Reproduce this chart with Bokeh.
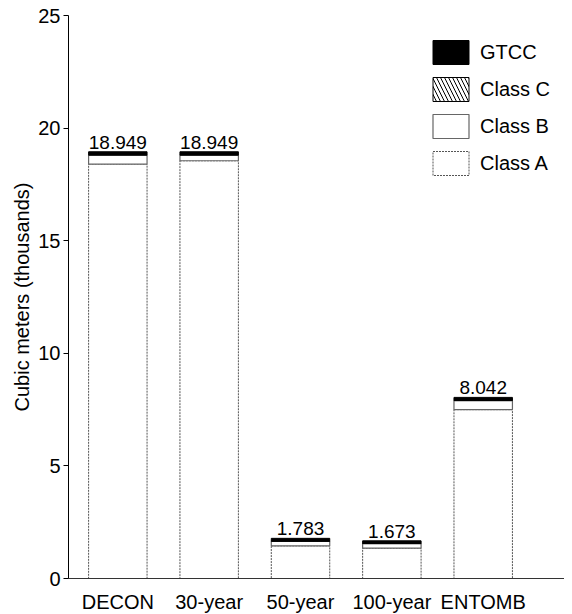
from bokeh.plotting import figure
from bokeh.models import Range1d, FixedTicker, Legend, LegendItem, ColumnDataSource
from bokeh.embed import file_html
from bokeh.resources import INLINE
from bokeh.core.properties import value

categories = ["DECON", "30-year", "50-year", "100-year", "ENTOMB"]
class_a = [18.40, 18.55, 1.45, 1.35, 7.50]
class_b = [0.40, 0.25, 0.20, 0.20, 0.40]
class_c = [0.02, 0.02, 0.02, 0.02, 0.02]
gtcc = [0.129, 0.129, 0.113, 0.103, 0.122]
totals = [18.949, 18.949, 1.783, 1.673, 8.042]
y_ticks = [0, 5, 10, 15, 20, 25]

FONT = "Liberation Sans"

xs = list(range(len(categories)))
src = ColumnDataSource(dict(x=xs, a=class_a, b=class_b, c=class_c, g=gtcc,
                            total=totals, label=[f"{t:.3f}" for t in totals]))

p = figure(frame_width=496, frame_height=563, output_backend="svg", toolbar_location=None,
           x_range=Range1d(-0.54, 4.89), y_range=Range1d(0, 25),
           min_border_left=68, min_border_right=0, min_border_top=15, min_border_bottom=30)
p.outline_line_color = None
p.xgrid.visible = False
p.ygrid.visible = False

W = 0.64
styles = [
    dict(fill_color="white", line_color="#555555", line_dash="2 1", line_width=1),
    dict(fill_color="white", line_color="#666666", line_width=1.2),
    dict(fill_color="white", line_color="black", hatch_pattern="\\", hatch_color="black",
         hatch_scale=8, hatch_weight=1, line_width=1),
    dict(fill_color="black", line_color="black", line_width=1),
]
rends = p.vbar_stack(["a", "b", "c", "g"], x="x", width=W, source=src,
                     fill_color=[s["fill_color"] for s in styles],
                     line_color=[s["line_color"] for s in styles])
for r, s in zip(rends, styles):
    for k, v in s.items():
        setattr(r.glyph, k, v)

p.text(x="x", y="total", text="label", source=src, text_align="center",
       text_baseline="bottom", y_offset=-3, text_font=value(FONT),
       text_font_size="19px", text_color="black")

names = ["Class A", "Class B", "Class C", "GTCC"]
items = [LegendItem(label=n, renderers=[r]) for n, r in zip(names, rends)][::-1]
legend = Legend(items=items, location=(360, 400), padding=0, spacing=7,
                glyph_width=45, glyph_height=30, label_standoff=7,
                label_text_font=FONT, label_text_font_size="20px",
                label_text_color="black", label_height=30,
                border_line_color=None, background_fill_alpha=0)
p.add_layout(legend)

p.xaxis.ticker = FixedTicker(ticks=xs)
p.xaxis.major_label_overrides = {i: c for i, c in enumerate(categories)}
p.xaxis.major_tick_line_color = None
p.xaxis.minor_tick_line_color = None
p.xaxis.major_label_standoff = 6
p.xaxis.axis_line_color = "#333333"
p.xaxis.major_label_text_font = FONT
p.xaxis.major_label_text_font_size = "20px"
p.xaxis.major_label_text_color = "black"

p.yaxis.ticker = FixedTicker(ticks=y_ticks)
p.yaxis.minor_tick_line_color = None
p.yaxis.major_tick_out = 5
p.yaxis.major_tick_in = 0
p.yaxis.major_label_standoff = 3
p.yaxis.axis_line_color = "black"
p.yaxis.major_label_text_font = FONT
p.yaxis.major_label_text_font_size = "20px"
p.yaxis.major_label_text_color = "black"
p.yaxis.axis_label = "Cubic meters (thousands)"
p.yaxis.axis_label_text_font = FONT
p.yaxis.axis_label_text_font_size = "20px"
p.yaxis.axis_label_text_font_style = "normal"
p.yaxis.axis_label_standoff = 2
p.yaxis.axis_label_text_color = "black"

open("out.html", "w").write(file_html(p, INLINE))
